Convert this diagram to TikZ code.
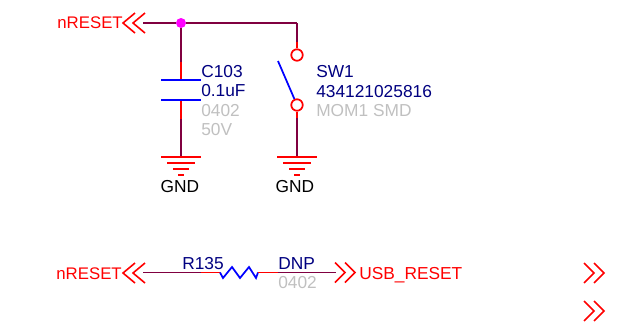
\documentclass[tikz,border=0pt]{standalone}
\usepackage{fontspec}
\setmainfont{Liberation Sans}
\definecolor{wirecol}{HTML}{800040}
\definecolor{partcol}{HTML}{000080}
\definecolor{footcol}{HTML}{C0C0C0}
\definecolor{dotcol}{HTML}{FF00FF}
\tikzset{
    wire/.style={draw=wirecol, line width=1.4pt},
    pinline/.style={draw=red, line width=1.3pt},
    bluepart/.style={draw=blue, line width=1.3pt},
    netname/.style={text=red, inner sep=0pt, font=\fontsize{13pt}{15pt}\selectfont},
    refname/.style={netname, text=partcol},
    footname/.style={netname, text=footcol},
    gndname/.style={netname, text=black},
    chevron/.style={draw=red, line width=1.2pt},
    contact/.style={circle, draw=red, line width=1.3pt, minimum size=8.6pt, inner sep=0pt},
    junction/.style={circle, fill=dotcol, minimum size=7.5pt, inner sep=0pt},
    pics/offleft/.style={code={
        \draw[chevron] (12,-10) -- (0,0) -- (12,10);
        \draw[chevron] (22,-10) -- (10,0) -- (22,10);
    }},
    pics/offright/.style={code={
        \draw[chevron] (-10,-10) -- (0,0) -- (-10,10);
        \draw[chevron] (0,-10) -- (10,0) -- (0,10);
    }},
    pics/ground/.style={code={
        \draw[pinline] (-20,0) -- (20,0);
        \draw[pinline] (-14,6) -- (14,6);
        \draw[pinline] (-8,12) -- (8,12);
        \draw[pinline] (-3,18) -- (3,18);
    }}
}
\begin{document}
\begin{tikzpicture}[x=0.75pt, y=-0.75pt]
    \useasboundingbox (0,0) rectangle (621,322);
    % top net
    \node[netname, font=\fontsize{12.6pt}{15pt}\selectfont, anchor=base east] (resetname) at (123,28) {nRESET};
    \pic at (123,23) {offleft};
    \coordinate (resetend) at (143,23);
    \node[junction] (dot) at (181,23) {};
    \coordinate (corner) at (297,23);
    % capacitor
    \coordinate (capwire) at (181,62);
    \coordinate (captop) at (181,80);
    \coordinate (capbot) at (181,100);
    \coordinate (capfoot) at (181,119);
    \coordinate (capgnd) at (181,157);
    \draw[pinline] (capwire) -- (captop);
    \draw[pinline] (capbot) -- (capfoot);
    \draw[bluepart] ([xshift=-15pt]captop) -- ([xshift=15pt]captop);
    \draw[bluepart] ([xshift=-15pt]capbot) -- ([xshift=15pt]capbot);
    \draw[wire] (resetend) -- (dot);
    \draw[wire] (dot) -- (corner);
    \draw[wire] (dot) -- (capwire);
    \draw[wire] (capfoot) -- (capgnd);
    \pic at (capgnd) {ground};
    \node[refname, anchor=base west] (capref) at (201,77) {C103};
    \node[refname, anchor=base west] (capval) at (201,96) {0.1uF};
    \node[footname, anchor=base west] (capsize) at (201,116) {0402};
    \node[footname, anchor=base west] (capvolt) at (201,135) {50V};
    \node[gndname, anchor=base] (capgndname) at (180,192) {GND};
    % switch
    \node[contact] (swtop) at (297,55) {};
    \node[contact] (swbot) at (297,105) {};
    \coordinate (swwire) at (297,42);
    \coordinate (swblade) at (278,61);
    \coordinate (swfoot) at (297,118);
    \coordinate (swgnd) at (297,157);
    \draw[wire] (corner) -- (swwire);
    \draw[pinline] (swwire) -- (swtop);
    \draw[bluepart] (swblade) -- (swbot);
    \draw[pinline] (swbot) -- (swfoot);
    \draw[wire] (swfoot) -- (swgnd);
    \pic at (swgnd) {ground};
    \node[refname, anchor=base west] (swref) at (316,77) {SW1};
    \node[refname, anchor=base west] (swval) at (316,97) {434121025816};
    \node[footname, anchor=base west] (swsize) at (316,116) {MOM1 SMD};
    \node[gndname, anchor=base] (swgndname) at (295,192) {GND};
    % resistor
    \node[netname, font=\fontsize{12.6pt}{15pt}\selectfont, anchor=base east] (resetname2) at (122,279) {nRESET};
    \pic at (123,273) {offleft};
    \coordinate (leftend) at (143,272.5);
    \coordinate (rleft) at (201,272.5);
    \coordinate (rstart) at (220,272.5);
    \coordinate (rstop) at (258,272.5);
    \coordinate (rright) at (278,272.5);
    \coordinate (rightend) at (336,272.5);
    \draw[wire] (leftend) -- (rleft);
    \draw[pinline] (rleft) -- (rstart);
    \draw[bluepart] (rstart) -- (223,278) -- (232,267) -- (240,278) -- (249,267) -- (256,278) -- (rstop);
    \draw[pinline] (rstop) -- (rright);
    \draw[wire] (rright) -- (rightend);
    \node[refname, anchor=base west] (rref) at (182,269) {R135};
    \node[refname, anchor=base west] (rval) at (278,269) {DNP};
    \node[footname, anchor=base west] (rsize) at (278,288) {0402};
    \pic at (345,272.5) {offright};
    \node[netname, anchor=base west] (usbname) at (359,279) {USB\_RESET};
    % unnamed ports
    \pic at (594,273) {offright};
    \pic at (594,311) {offright};
\end{tikzpicture}
\end{document}
